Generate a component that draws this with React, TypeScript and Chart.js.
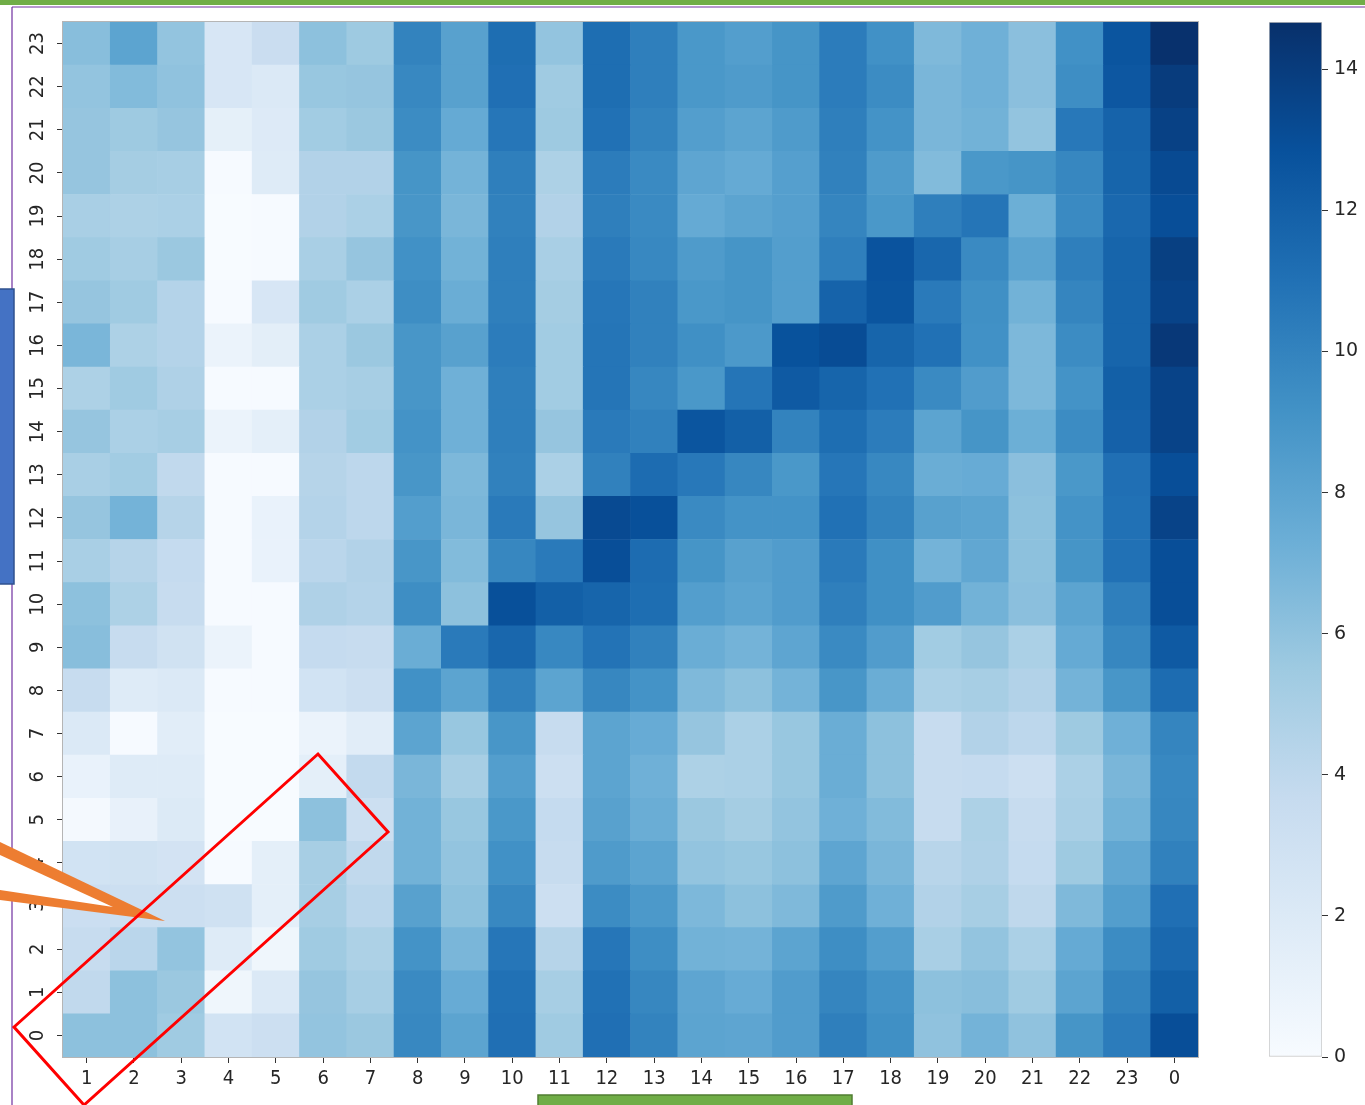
import React, { useEffect, useRef } from 'react';
import { Chart, registerables } from 'chart.js';

Chart.register(...registerables);

// Column (hour) labels along the x axis, left to right
const xLabels = ['1', '2', '3', '4', '5', '6', '7', '8', '9', '10', '11', '12', '13', '14', '15', '16', '17', '18', '19', '20', '21', '22', '23', '0'];
// Row labels along the y axis, bottom to top
const yLabels = ['0', '1', '2', '3', '4', '5', '6', '7', '8', '9', '10', '11', '12', '13', '14', '15', '16', '17', '18', '19', '20', '21', '22', '23'];

// Cell values, one array per row (row label), in xLabels order
const row0 = [6.1, 6.1, 5.4, 2.8, 3.2, 5.9, 5.6, 9.7, 8.0, 11.1, 5.4, 11.1, 10.0, 8.0, 7.9, 8.5, 10.2, 9.3, 6.0, 7.0, 6.0, 9.0, 10.4, 13.0];
const row1 = [3.9, 6.1, 5.6, 0.6, 2.1, 5.8, 5.1, 9.6, 7.5, 11.0, 5.1, 11.0, 9.8, 7.9, 7.5, 8.5, 9.9, 9.1, 6.1, 6.3, 5.4, 8.0, 10.0, 12.0];
const row2 = [3.6, 4.2, 5.9, 1.8, 0.6, 5.4, 4.8, 9.1, 6.8, 10.7, 4.4, 10.7, 9.4, 7.1, 7.0, 8.0, 9.4, 8.4, 5.0, 5.9, 4.9, 7.6, 9.5, 11.5];
const row3 = [3.3, 3.2, 3.2, 3.0, 1.4, 5.1, 4.2, 8.2, 6.1, 9.7, 3.2, 9.5, 8.7, 6.7, 6.1, 6.6, 8.6, 7.2, 4.6, 5.1, 4.0, 6.6, 8.4, 11.1];
const row4 = [2.8, 2.9, 2.7, 0.1, 1.4, 5.1, 3.9, 7.1, 5.9, 9.2, 3.6, 8.6, 8.0, 5.9, 5.7, 6.1, 7.9, 6.8, 4.3, 4.7, 3.7, 5.5, 7.8, 10.1];
const row5 = [0.2, 1.1, 2.0, 0.0, 0.0, 6.1, 3.2, 7.1, 5.7, 8.8, 3.7, 8.2, 7.4, 5.6, 5.2, 5.9, 7.2, 6.5, 3.6, 4.8, 3.6, 5.0, 7.1, 9.8];
const row6 = [1.0, 1.8, 1.8, 0.0, 0.0, 1.4, 3.8, 6.8, 5.1, 8.4, 3.2, 8.0, 7.2, 4.8, 4.9, 5.7, 7.4, 6.1, 3.6, 3.7, 3.2, 4.9, 6.8, 9.7];
const row7 = [2.1, 0.1, 1.6, 0.0, 0.0, 0.9, 1.6, 8.0, 5.7, 8.9, 3.6, 8.0, 7.5, 5.8, 4.9, 5.7, 7.4, 6.1, 3.6, 4.6, 4.1, 5.5, 7.2, 9.9];
const row8 = [3.6, 1.8, 2.1, 0.1, 0.1, 2.8, 3.2, 9.2, 8.0, 10.1, 8.0, 9.8, 9.1, 6.6, 6.1, 7.0, 8.9, 7.4, 4.9, 5.1, 4.6, 7.0, 8.9, 11.3];
const row9 = [6.3, 3.6, 2.9, 0.9, 0.1, 3.7, 3.6, 7.4, 10.5, 11.6, 9.7, 10.9, 10.1, 7.4, 7.0, 7.9, 9.6, 8.5, 5.3, 5.8, 4.9, 7.6, 9.8, 12.3];
const row10 = [6.1, 4.8, 3.6, 0.1, 0.1, 4.7, 4.5, 9.4, 6.1, 12.9, 12.0, 11.7, 11.2, 8.4, 8.0, 8.5, 10.2, 9.3, 8.5, 7.1, 6.2, 8.0, 10.2, 13.0];
const row11 = [5.0, 4.4, 3.7, 0.1, 1.0, 4.2, 4.6, 8.9, 6.5, 9.8, 10.5, 13.0, 11.3, 9.0, 8.2, 8.5, 10.5, 9.3, 7.0, 7.8, 6.1, 9.0, 11.0, 13.0];
const row12 = [5.8, 7.0, 4.4, 0.1, 1.0, 4.5, 4.1, 8.4, 6.8, 10.5, 5.8, 13.2, 12.9, 9.6, 9.1, 9.1, 11.0, 10.0, 8.2, 8.0, 6.1, 9.1, 11.0, 13.6];
const row13 = [5.0, 5.3, 3.9, 0.1, 0.1, 4.4, 4.1, 8.9, 6.7, 10.1, 4.9, 10.1, 11.3, 10.6, 9.8, 8.8, 10.7, 9.7, 7.4, 7.5, 6.2, 8.8, 11.1, 13.0];
const row14 = [5.8, 4.9, 5.1, 0.9, 1.4, 4.6, 5.3, 9.1, 7.2, 10.2, 5.8, 10.5, 10.1, 12.6, 12.0, 10.0, 11.2, 10.4, 8.0, 9.0, 7.3, 9.5, 11.9, 13.6];
const row15 = [4.8, 5.4, 4.7, 0.1, 0.1, 4.9, 5.1, 8.9, 7.2, 10.2, 5.3, 10.8, 9.8, 8.8, 10.8, 12.3, 11.7, 11.0, 9.6, 8.5, 6.7, 9.1, 12.0, 13.6];
const row16 = [6.8, 4.8, 4.5, 0.9, 1.5, 4.9, 5.6, 8.9, 8.2, 10.4, 5.3, 10.8, 10.1, 9.3, 8.7, 12.8, 13.1, 11.7, 11.0, 9.2, 6.7, 9.5, 11.7, 14.2];
const row17 = [5.8, 5.4, 4.5, 0.1, 2.4, 5.4, 4.9, 9.4, 7.4, 10.2, 5.2, 10.7, 10.1, 8.8, 9.0, 8.4, 11.8, 12.6, 10.5, 9.3, 7.1, 9.9, 11.7, 13.6];
const row18 = [5.4, 5.1, 5.6, 0.0, 0.1, 5.0, 5.8, 9.2, 7.1, 10.2, 5.0, 10.5, 9.7, 8.6, 9.0, 8.4, 10.2, 12.7, 11.6, 9.6, 8.0, 10.2, 11.7, 13.8];
const row19 = [5.0, 4.8, 4.9, 0.0, 0.1, 4.6, 4.9, 8.9, 6.8, 10.1, 4.6, 10.2, 9.6, 7.6, 8.0, 8.3, 9.9, 8.8, 10.2, 10.8, 7.3, 9.6, 11.5, 13.0];
const row20 = [5.8, 5.2, 5.1, 0.1, 1.8, 4.6, 4.6, 9.0, 7.0, 10.2, 4.8, 10.4, 9.6, 7.9, 7.6, 8.3, 10.1, 8.6, 6.5, 8.8, 9.0, 9.8, 11.7, 13.2];
const row21 = [5.8, 5.5, 5.8, 1.3, 1.9, 5.3, 5.6, 9.5, 7.6, 10.7, 5.5, 11.0, 10.0, 8.4, 8.0, 8.6, 10.2, 9.1, 6.8, 7.1, 5.9, 10.6, 11.8, 13.7];
const row22 = [5.9, 6.5, 6.0, 2.4, 2.1, 5.7, 5.8, 9.7, 8.2, 11.1, 5.4, 11.2, 10.2, 8.8, 8.6, 9.0, 10.4, 9.5, 6.8, 7.2, 6.2, 9.4, 12.5, 14.0];
const row23 = [6.3, 8.0, 5.9, 2.4, 3.4, 6.1, 5.5, 10.0, 8.2, 11.2, 5.9, 11.2, 10.2, 8.8, 8.4, 9.0, 10.4, 9.2, 6.6, 7.2, 6.2, 9.2, 12.6, 14.6];

const rows = [row0, row1, row2, row3, row4, row5, row6, row7, row8, row9, row10, row11, row12, row13, row14, row15, row16, row17, row18, row19, row20, row21, row22, row23];

// Colour scale range and colorbar tick values
const VMIN = 0;
const VMAX = 14.67;
const colorbarTicks = [0, 2, 4, 6, 8, 10, 12, 14];

// matplotlib "Blues" colormap anchors
const bluesStops = ['#f7fbff', '#deebf7', '#c6dbef', '#9ecae1', '#6baed6', '#4292c6', '#2171b5', '#08519c', '#08306b'];

function hexToRgb(h: string): number[] {
  return [parseInt(h.slice(1, 3), 16), parseInt(h.slice(3, 5), 16), parseInt(h.slice(5, 7), 16)];
}

function blues(t: number): string {
  const tt = Math.max(0, Math.min(1, t));
  const p = tt * (bluesStops.length - 1);
  const i = Math.min(bluesStops.length - 2, Math.floor(p));
  const f = p - i;
  const a = hexToRgb(bluesStops[i]);
  const b = hexToRgb(bluesStops[i + 1]);
  const c = a.map((v, k) => Math.round(v + (b[k] - v) * f));
  return `rgb(${c[0]},${c[1]},${c[2]})`;
}

const FONT_FAMILY = "'DejaVu Sans Condensed', 'DejaVu Sans', sans-serif";
const TEXT_COLOR = '#262626';

const overlayPlugin = {
  id: 'overlay',
  afterDraw(chart: any) {
    const { ctx, chartArea } = chart;
    const yScale = chart.scales.y;
    ctx.save();
    // frame around heatmap
    ctx.strokeStyle = '#b5b5b5';
    ctx.lineWidth = 1;
    ctx.strokeRect(chartArea.left - 0.5, chartArea.top - 0.5, chartArea.right - chartArea.left + 1, chartArea.bottom - chartArea.top + 1);

    // rotated y tick labels
    ctx.fillStyle = TEXT_COLOR;
    ctx.font = `20px ${FONT_FAMILY}`;
    ctx.textAlign = 'center';
    ctx.textBaseline = 'middle';
    yLabels.forEach((lab, i) => {
      const y = yScale.getPixelForValue(i + 0.5);
      ctx.save();
      ctx.translate(37, y);
      ctx.rotate(-Math.PI / 2);
      ctx.fillText(lab, 0, 1);
      ctx.restore();
    });

    // screenshot annotations
    // top green bar
    ctx.fillStyle = '#70ad47';
    ctx.fillRect(0, 0, 1365, 5);
    // purple frame lines
    ctx.strokeStyle = '#7030a0';
    ctx.lineWidth = 1.2;
    ctx.beginPath();
    ctx.moveTo(12, 7);
    ctx.lineTo(1365, 7);
    ctx.moveTo(12, 7);
    ctx.lineTo(12, 1105);
    ctx.stroke();
    // blue tab on the left
    ctx.fillStyle = '#4472c4';
    ctx.fillRect(-2, 289, 16, 295);
    ctx.strokeStyle = '#2f528f';
    ctx.lineWidth = 1.5;
    ctx.strokeRect(-2, 289, 16, 295);
    // green tab at the bottom
    ctx.fillStyle = '#70ad47';
    ctx.fillRect(538, 1095, 314, 20);
    ctx.strokeStyle = '#507e32';
    ctx.strokeRect(538, 1095, 314, 20);
    // orange callout wedge (outer orange shape with white interior)
    ctx.beginPath();
    ctx.moveTo(-5, 839.6);
    ctx.lineTo(165, 921);
    ctx.lineTo(-5, 899.4);
    ctx.closePath();
    ctx.fillStyle = '#ed7d31';
    ctx.fill();
    ctx.beginPath();
    ctx.moveTo(-5, 852.7);
    ctx.lineTo(113, 907);
    ctx.lineTo(-5, 889.2);
    ctx.closePath();
    ctx.fillStyle = '#ffffff';
    ctx.fill();
    // red rotated rectangle
    ctx.beginPath();
    ctx.moveTo(14, 1027);
    ctx.lineTo(318, 754);
    ctx.lineTo(388, 832);
    ctx.lineTo(84, 1105);
    ctx.closePath();
    ctx.strokeStyle = '#ff0000';
    ctx.lineWidth = 3;
    ctx.stroke();
    ctx.restore();
  },
};

export default function App() {
  const mainRef = useRef<HTMLCanvasElement | null>(null);
  const cbRef = useRef<HTMLCanvasElement | null>(null);

  useEffect(() => {
    if (!mainRef.current || !cbRef.current) return;

    const datasets = rows.map((vals, r) => ({
      label: yLabels[r],
      data: vals.map(() => [r, r + 1]),
      backgroundColor: vals.map((v) => blues((v - VMIN) / (VMAX - VMIN))),
      borderWidth: 0,
      barPercentage: 1,
      categoryPercentage: 1,
      grouped: false,
    }));

    const main = new Chart(mainRef.current, {
      type: 'bar',
      data: { labels: xLabels, datasets: datasets as any },
      options: {
        animation: false,
        responsive: false,
        layout: { padding: { top: 22, right: 167, left: 0, bottom: 0 } },
        plugins: { legend: { display: false }, tooltip: { enabled: false } },
        scales: {
          x: {
            type: 'category',
            offset: true,
            grid: { display: true, drawOnChartArea: false, drawTicks: true, tickLength: 6, color: '#333333', offset: false },
            border: { display: false },
            ticks: { color: TEXT_COLOR, font: { family: FONT_FAMILY, size: 20 }, padding: 4, maxRotation: 0, minRotation: 0, autoSkip: false },
            afterFit: (s: any) => { s.height = 48; },
          },
          y: {
            type: 'linear',
            min: 0,
            max: yLabels.length,
            afterBuildTicks: (s: any) => { s.ticks = yLabels.map((_, i) => ({ value: i + 0.5 })); },
            grid: { display: true, drawOnChartArea: false, drawTicks: true, tickLength: 6, color: '#333333' },
            border: { display: false },
            ticks: { display: false },
            afterFit: (s: any) => { s.width = 63; },
          },
        },
      } as any,
      plugins: [overlayPlugin],
    });

    const cb = new Chart(cbRef.current, {
      type: 'bar',
      data: {
        labels: [''],
        datasets: [{
          data: [[VMIN, VMAX]] as any,
          backgroundColor: (c: any) => {
            const chart = c.chart;
            const ys = chart.scales && chart.scales.y;
            if (!chart.chartArea || !ys) return bluesStops[4];
            const g = chart.ctx.createLinearGradient(0, ys.getPixelForValue(VMIN), 0, ys.getPixelForValue(VMAX));
            bluesStops.forEach((col, i) => g.addColorStop(i / (bluesStops.length - 1), col));
            return g;
          },
          borderColor: '#c4c4c4',
          borderWidth: 1,
          borderSkipped: false,
          barPercentage: 1,
          categoryPercentage: 1,
        }],
      },
      options: {
        animation: false,
        responsive: false,
        layout: { padding: { top: 22, bottom: 48, left: 0, right: 0 } },
        plugins: { legend: { display: false }, tooltip: { enabled: false } },
        scales: {
          x: { display: false },
          y: {
            position: 'right',
            min: VMIN,
            max: VMAX,
            afterBuildTicks: (s: any) => { s.ticks = colorbarTicks.map((v) => ({ value: v })); },
            grid: { display: true, drawOnChartArea: false, drawTicks: true, tickLength: 6, color: '#333333' },
            border: { display: false },
            ticks: { color: TEXT_COLOR, font: { family: "'DejaVu Sans', sans-serif", size: 19 }, padding: 6 },
            afterFit: (s: any) => { s.width = 43; },
          },
        },
      } as any,
    });

    return () => {
      main.destroy();
      cb.destroy();
    };
  }, []);

  return (
    <div style={{ position: 'absolute', left: 0, top: 0, width: 1365, height: 1105, background: '#ffffff' }}>
      <canvas ref={cbRef} width={96} height={1105} style={{ position: 'absolute', left: 1269, top: 0 }} />
      <canvas ref={mainRef} width={1365} height={1105} style={{ position: 'absolute', left: 0, top: 0 }} />
    </div>
  );
}
